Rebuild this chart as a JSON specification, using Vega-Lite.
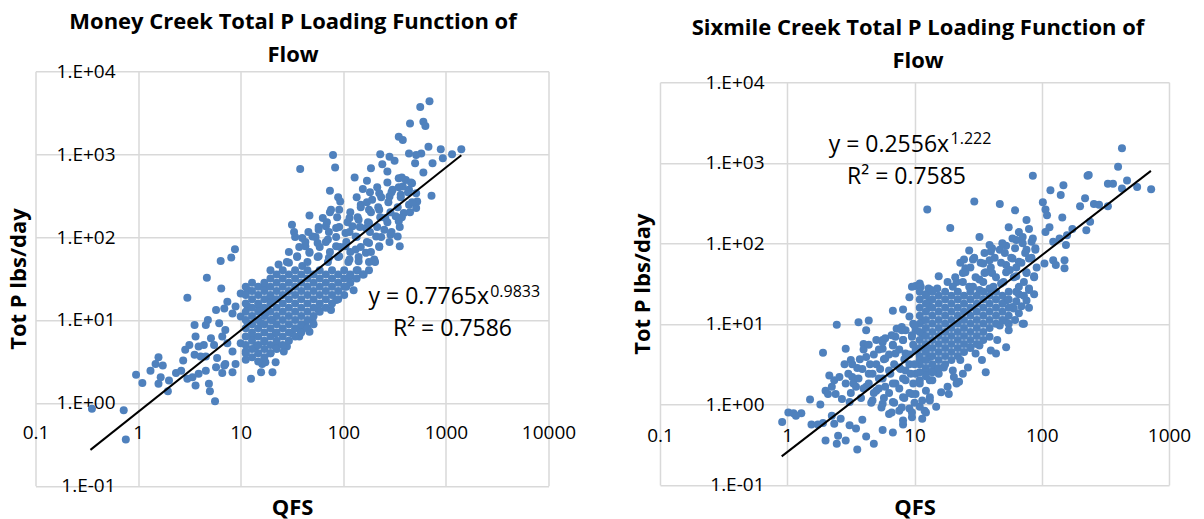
{
  "$schema": "https://vega.github.io/schema/vega-lite/v6.json",
  "background": "#ffffff",
  "padding": {"left": 6.5, "top": 10.3, "right": 4, "bottom": 8},
  "bounds": "flush",
  "spacing": 111.5,
  "config": {
    "view": {"stroke": null},
    "font": "Open Sans",
    "axis": {
      "labelFont": "Open Sans", "labelFontSize": 19, "labelColor": "#000000",
      "titleFont": "Open Sans", "titleFontSize": 22, "titleFontWeight": "bold", "titleColor": "#000000",
      "domain": false, "ticks": false, "tickSize": 0,
      "gridColor": "#d9d9d9", "gridWidth": 1.5, "gridOpacity": 1,
      "labelFlush": false, "labelOverlap": false, "labelBound": false, "labelPadding": 0
    },
    "title": {"font": "Open Sans", "fontSize": 22, "fontWeight": "bold", "color": "#000000", "anchor": "middle", "frame": "group", "lineHeight": 33}
  },
  "datasets": {
    "money": [
      {"qfs":6.38,"totp":51.6},{"qfs":8.09,"totp":56.6},{"qfs":8.79,"totp":71.4},
      {"qfs":692,"totp":4365},{"qfs":562,"totp":3715},{"qfs":447,"totp":2344},{"qfs":603,"totp":2455},{"qfs":631,"totp":2188},{"qfs":347,"totp":1622},{"qfs":380,"totp":1479},{"qfs":1413,"totp":1148},{"qfs":891,"totp":1148},{"qfs":1148,"totp":1000},{"qfs":933,"totp":891},{"qfs":676,"totp":1230},{"qfs":575,"totp":1023},{"qfs":513,"totp":977},{"qfs":437,"totp":1023},{"qfs":79.4,"totp":977},{"qfs":83.2,"totp":692},{"qfs":38.0,"totp":661},{"qfs":229,"totp":1000},{"qfs":282,"totp":933},{"qfs":316,"totp":832},{"qfs":186,"totp":676},{"qfs":240,"totp":759},{"qfs":269,"totp":617},{"qfs":501,"totp":776},{"qfs":603,"totp":603},{"qfs":741,"totp":776},{"qfs":724,"totp":316},{"qfs":129,"totp":525},{"qfs":170,"totp":479},{"qfs":155,"totp":380},{"qfs":74.1,"totp":363},{"qfs":89.1,"totp":302},{"qfs":93.3,"totp":269},{"qfs":148,"totp":245},{"qfs":191,"totp":282},{"qfs":46.8,"totp":182},{"qfs":31.6,"totp":141},{"qfs":33.1,"totp":115},{"qfs":63.1,"totp":170},{"qfs":75.9,"totp":214},{"qfs":91.2,"totp":214},{"qfs":347,"totp":513},{"qfs":407,"totp":490},{"qfs":468,"totp":447},{"qfs":380,"totp":407},{"qfs":437,"totp":372},{"qfs":513,"totp":339},{"qfs":302,"totp":372},{"qfs":363,"totp":324},{"qfs":282,"totp":309},{"qfs":525,"totp":269},{"qfs":437,"totp":245},{"qfs":224,"totp":339},{"qfs":513,"totp":224},{"qfs":389,"totp":195},{"qfs":324,"totp":178},{"qfs":224,"totp":214},{"qfs":178,"totp":214},{"qfs":257,"totp":170},{"qfs":347,"totp":155},{"qfs":251,"totp":123},{"qfs":288,"totp":107},{"qfs":339,"totp":102},{"qfs":355,"totp":77.6},{"qfs":178,"totp":148},{"qfs":141,"totp":162},{"qfs":115,"totp":170},{"qfs":123,"totp":135},{"qfs":166,"totp":129},{"qfs":209,"totp":102},{"qfs":178,"totp":85.1},{"qfs":224,"totp":77.6},{"qfs":132,"totp":102},{"qfs":105,"totp":112},{"qfs":85.1,"totp":129},{"qfs":67.6,"totp":135},{"qfs":57.5,"totp":123},{"qfs":50.1,"totp":102},{"qfs":39.8,"totp":97.7},{"qfs":42.7,"totp":77.6},{"qfs":56.2,"totp":85.1},{"qfs":70.8,"totp":93.3},{"qfs":85.1,"totp":77.6},{"qfs":105,"totp":77.6},{"qfs":132,"totp":70.8},{"qfs":166,"totp":64.6},{"qfs":200,"totp":53.7},{"qfs":141,"totp":51.3},{"qfs":115,"totp":53.7},{"qfs":91.2,"totp":58.9},{"qfs":72.4,"totp":56.2},{"qfs":57.5,"totp":58.9},{"qfs":46.8,"totp":64.6},{"qfs":35.5,"totp":58.9},{"qfs":29.5,"totp":49.0},{"qfs":23.4,"totp":46.8},{"qfs":39.8,"totp":44.7},
      {"qfs":0.355,"totp":0.851},{"qfs":0.724,"totp":0.813},{"qfs":0.759,"totp":0.363},{"qfs":0.955,"totp":2.19},{"qfs":1.10,"totp":1.74},{"qfs":1.32,"totp":2.45},{"qfs":1.58,"totp":3.55},{"qfs":1.48,"totp":2.95},{"qfs":1.74,"totp":2.82},{"qfs":1.58,"totp":1.70},{"qfs":1.95,"totp":1.38},{"qfs":1.66,"totp":2.04},{"qfs":2.00,"totp":1.86},{"qfs":2.34,"totp":2.29},{"qfs":2.75,"totp":3.24},{"qfs":2.63,"totp":2.45},{"qfs":3.02,"totp":1.95},{"qfs":3.63,"totp":1.62},{"qfs":3.39,"totp":2.04},{"qfs":3.89,"totp":2.24},{"qfs":4.90,"totp":1.70},{"qfs":5.01,"totp":1.38},{"qfs":5.62,"totp":1.05},{"qfs":4.57,"totp":2.45},{"qfs":5.75,"totp":2.69},{"qfs":6.61,"totp":2.29},{"qfs":8.32,"totp":2.34},{"qfs":7.08,"totp":2.95},{"qfs":8.91,"totp":2.95},{"qfs":11.2,"totp":3.31},{"qfs":12.6,"totp":1.95},{"qfs":15.8,"totp":2.34},{"qfs":16.2,"totp":2.95},{"qfs":3.02,"totp":18.6},{"qfs":4.68,"totp":32.4},{"qfs":6.46,"totp":24.0},{"qfs":3.55,"totp":8.71},{"qfs":3.63,"totp":6.31},{"qfs":3.16,"totp":5.01},{"qfs":2.88,"totp":4.37},{"qfs":3.89,"totp":4.79},{"qfs":4.37,"totp":5.01},{"qfs":3.55,"totp":3.80},{"qfs":4.07,"totp":3.63},{"qfs":4.57,"totp":3.63},{"qfs":5.50,"totp":5.01},{"qfs":5.13,"totp":6.03},{"qfs":4.79,"totp":10.0},{"qfs":4.57,"totp":8.71},{"qfs":5.75,"totp":13.2},{"qfs":6.17,"totp":9.12},{"qfs":7.08,"totp":7.59},{"qfs":6.92,"totp":13.8},{"qfs":7.41,"totp":16.6},{"qfs":8.91,"totp":14.5},{"qfs":10.0,"totp":20.9},{"qfs":11.7,"totp":22.9},{"qfs":11.7,"totp":14.5},{"qfs":8.32,"totp":12.0},{"qfs":10.0,"totp":11.0},{"qfs":11.7,"totp":9.12},{"qfs":15.1,"totp":14.5},{"qfs":17.4,"totp":25.1},{"qfs":19.5,"totp":19.1},{"qfs":17.4,"totp":12.0},{"qfs":15.8,"totp":9.12},{"qfs":6.61,"totp":6.31},{"qfs":7.41,"totp":5.25},{"qfs":8.32,"totp":4.17},{"qfs":10.0,"totp":5.25},{"qfs":11.2,"totp":4.17},{"qfs":12.9,"totp":6.31},{"qfs":14.1,"totp":4.79},{"qfs":17.0,"totp":5.50},{"qfs":19.5,"totp":3.98},{"qfs":17.4,"totp":3.09},{"qfs":21.9,"totp":6.92},{"qfs":20.4,"totp":10.0},{"qfs":5.89,"totp":3.47},{"qfs":6.92,"totp":2.82},{"qfs":21.9,"totp":3.09},{"qfs":20.4,"totp":2.34},
      {"qfs":126,"totp":22.9},{"qfs":107,"totp":25.1},{"qfs":115,"totp":33.1},{"qfs":138,"totp":39.8},{"qfs":85.1,"totp":17.4},{"qfs":75.9,"totp":13.2},{"qfs":57.5,"totp":13.2},{"qfs":50.1,"totp":10.0},{"qfs":46.8,"totp":7.24},{"qfs":37.2,"totp":6.31},{"qfs":31.6,"totp":6.92},{"qfs":28.2,"totp":4.79},{"qfs":26.3,"totp":4.17},{"qfs":21.9,"totp":4.79},{"qfs":42.7,"totp":8.71},{"qfs":38.0,"totp":7.59},{"qfs":204,"totp":50.1},{"qfs":158,"totp":35.5},
      {"qfs":11.2,"totp":3.98},{"qfs":11.2,"totp":5.01},{"qfs":11.2,"totp":6.31},{"qfs":11.2,"totp":7.94},{"qfs":11.2,"totp":10.0},{"qfs":11.2,"totp":12.6},{"qfs":11.2,"totp":15.8},{"qfs":11.2,"totp":20.0},{"qfs":11.2,"totp":25.1},
      {"qfs":12.9,"totp":3.55},{"qfs":12.9,"totp":4.47},{"qfs":12.9,"totp":5.62},{"qfs":12.9,"totp":7.08},{"qfs":12.9,"totp":8.91},{"qfs":12.9,"totp":11.2},{"qfs":12.9,"totp":14.1},{"qfs":12.9,"totp":17.8},{"qfs":12.9,"totp":22.4},{"qfs":12.9,"totp":28.2},
      {"qfs":14.8,"totp":3.16},{"qfs":14.8,"totp":3.98},{"qfs":14.8,"totp":5.01},{"qfs":14.8,"totp":6.31},{"qfs":14.8,"totp":7.94},{"qfs":14.8,"totp":10.0},{"qfs":14.8,"totp":12.6},{"qfs":14.8,"totp":15.8},{"qfs":14.8,"totp":20.0},{"qfs":14.8,"totp":25.1},
      {"qfs":17.0,"totp":3.55},{"qfs":17.0,"totp":4.47},{"qfs":17.0,"totp":5.62},{"qfs":17.0,"totp":7.08},{"qfs":17.0,"totp":8.91},{"qfs":17.0,"totp":11.2},{"qfs":17.0,"totp":14.1},{"qfs":17.0,"totp":17.8},{"qfs":17.0,"totp":22.4},{"qfs":17.0,"totp":28.2},
      {"qfs":19.5,"totp":3.98},{"qfs":19.5,"totp":5.01},{"qfs":19.5,"totp":6.31},{"qfs":19.5,"totp":7.94},{"qfs":19.5,"totp":10.0},{"qfs":19.5,"totp":12.6},{"qfs":19.5,"totp":15.8},{"qfs":19.5,"totp":20.0},{"qfs":19.5,"totp":25.1},{"qfs":19.5,"totp":31.6},{"qfs":19.5,"totp":39.8},
      {"qfs":22.4,"totp":4.47},{"qfs":22.4,"totp":5.62},{"qfs":22.4,"totp":7.08},{"qfs":22.4,"totp":8.91},{"qfs":22.4,"totp":11.2},{"qfs":22.4,"totp":14.1},{"qfs":22.4,"totp":17.8},{"qfs":22.4,"totp":22.4},{"qfs":22.4,"totp":28.2},{"qfs":22.4,"totp":35.5},
      {"qfs":25.7,"totp":5.01},{"qfs":25.7,"totp":6.31},{"qfs":25.7,"totp":7.94},{"qfs":25.7,"totp":10.0},{"qfs":25.7,"totp":12.6},{"qfs":25.7,"totp":15.8},{"qfs":25.7,"totp":20.0},{"qfs":25.7,"totp":25.1},{"qfs":25.7,"totp":31.6},{"qfs":25.7,"totp":39.8},
      {"qfs":29.5,"totp":5.62},{"qfs":29.5,"totp":7.08},{"qfs":29.5,"totp":8.91},{"qfs":29.5,"totp":11.2},{"qfs":29.5,"totp":14.1},{"qfs":29.5,"totp":17.8},{"qfs":29.5,"totp":22.4},{"qfs":29.5,"totp":28.2},{"qfs":29.5,"totp":35.5},
      {"qfs":33.9,"totp":6.31},{"qfs":33.9,"totp":7.94},{"qfs":33.9,"totp":10.0},{"qfs":33.9,"totp":12.6},{"qfs":33.9,"totp":15.8},{"qfs":33.9,"totp":20.0},{"qfs":33.9,"totp":25.1},{"qfs":33.9,"totp":31.6},{"qfs":33.9,"totp":39.8},
      {"qfs":38.9,"totp":7.08},{"qfs":38.9,"totp":8.91},{"qfs":38.9,"totp":11.2},{"qfs":38.9,"totp":14.1},{"qfs":38.9,"totp":17.8},{"qfs":38.9,"totp":22.4},{"qfs":38.9,"totp":28.2},{"qfs":38.9,"totp":35.5},
      {"qfs":44.7,"totp":7.94},{"qfs":44.7,"totp":10.0},{"qfs":44.7,"totp":12.6},{"qfs":44.7,"totp":15.8},{"qfs":44.7,"totp":20.0},{"qfs":44.7,"totp":25.1},{"qfs":44.7,"totp":31.6},{"qfs":44.7,"totp":39.8},
      {"qfs":51.3,"totp":8.91},{"qfs":51.3,"totp":11.2},{"qfs":51.3,"totp":14.1},{"qfs":51.3,"totp":17.8},{"qfs":51.3,"totp":22.4},{"qfs":51.3,"totp":28.2},{"qfs":51.3,"totp":35.5},
      {"qfs":58.9,"totp":12.6},{"qfs":58.9,"totp":15.8},{"qfs":58.9,"totp":20.0},{"qfs":58.9,"totp":25.1},{"qfs":58.9,"totp":31.6},{"qfs":58.9,"totp":39.8},
      {"qfs":67.6,"totp":14.1},{"qfs":67.6,"totp":17.8},{"qfs":67.6,"totp":22.4},{"qfs":67.6,"totp":28.2},{"qfs":67.6,"totp":35.5},
      {"qfs":77.6,"totp":15.8},{"qfs":77.6,"totp":20.0},{"qfs":77.6,"totp":25.1},{"qfs":77.6,"totp":31.6},{"qfs":77.6,"totp":39.8},
      {"qfs":89.1,"totp":17.8},{"qfs":89.1,"totp":22.4},{"qfs":89.1,"totp":28.2},{"qfs":89.1,"totp":35.5},
      {"qfs":102,"totp":20.0},{"qfs":102,"totp":25.1},{"qfs":102,"totp":31.6},{"qfs":102,"totp":39.8},
      {"qfs":117,"totp":28.2},{"qfs":117,"totp":35.5},{"qfs":135,"totp":31.6},{"qfs":135,"totp":39.8},{"qfs":155,"totp":35.5},{"qfs":178,"totp":39.8},
      {"qfs":28.2,"totp":50.1},{"qfs":29.5,"totp":66.1},
      {"qfs":35.5,"totp":57.5},{"qfs":37.2,"totp":75.9},{"qfs":33.9,"totp":100},
      {"qfs":44.7,"totp":50.1},{"qfs":46.8,"totp":66.1},{"qfs":42.7,"totp":87.1},{"qfs":45.7,"totp":115},
      {"qfs":56.2,"totp":57.5},{"qfs":58.9,"totp":75.9},{"qfs":53.7,"totp":100},{"qfs":57.5,"totp":132},
      {"qfs":70.8,"totp":50.1},{"qfs":74.1,"totp":66.1},{"qfs":67.6,"totp":87.1},{"qfs":72.4,"totp":115},{"qfs":69.2,"totp":151},{"qfs":74.1,"totp":200},
      {"qfs":89.1,"totp":57.5},{"qfs":93.3,"totp":75.9},{"qfs":85.1,"totp":100},{"qfs":91.2,"totp":132},{"qfs":87.1,"totp":174},
      {"qfs":112,"totp":50.1},{"qfs":117,"totp":66.1},{"qfs":107,"totp":87.1},{"qfs":115,"totp":115},{"qfs":110,"totp":151},{"qfs":117,"totp":200},
      {"qfs":141,"totp":57.5},{"qfs":148,"totp":75.9},{"qfs":135,"totp":100},{"qfs":145,"totp":132},{"qfs":138,"totp":174},{"qfs":148,"totp":229},{"qfs":135,"totp":302},
      {"qfs":178,"totp":50.1},{"qfs":186,"totp":66.1},{"qfs":170,"totp":87.1},{"qfs":182,"totp":115},{"qfs":174,"totp":151},{"qfs":186,"totp":200},{"qfs":170,"totp":263},{"qfs":182,"totp":347},
      {"qfs":224,"totp":75.9},{"qfs":234,"totp":100},{"qfs":214,"totp":132},{"qfs":229,"totp":174},{"qfs":219,"totp":229},{"qfs":234,"totp":302},{"qfs":214,"totp":398},
      {"qfs":282,"totp":87.1},{"qfs":295,"totp":115},{"qfs":269,"totp":151},{"qfs":288,"totp":200},{"qfs":275,"totp":263},{"qfs":295,"totp":347},{"qfs":269,"totp":457},
      {"qfs":355,"totp":132},{"qfs":372,"totp":174},{"qfs":339,"totp":229},{"qfs":363,"totp":302},{"qfs":347,"totp":398},{"qfs":372,"totp":525},
      {"qfs":447,"totp":200},{"qfs":468,"totp":263},{"qfs":427,"totp":347},{"qfs":457,"totp":457}
    ],
    "moneyFit": [{"qfs":0.343,"totp":0.271},{"qfs":1413,"totp":972}],
    "sixmile": [
      {"qfs":12.6,"totp":263},{"qfs":10.2,"totp":29.5},{"qfs":11.0,"totp":31.6},{"qfs":9.55,"totp":28.8},{"qfs":12.9,"totp":27.5},
      {"qfs":85.1,"totp":692},{"qfs":229,"totp":692},{"qfs":148,"totp":525},{"qfs":117,"totp":457},{"qfs":141,"totp":398},{"qfs":219,"totp":363},{"qfs":200,"totp":288},{"qfs":257,"totp":309},{"qfs":102,"totp":324},{"qfs":107,"totp":263},{"qfs":110,"totp":224},{"qfs":145,"totp":209},{"qfs":115,"totp":158},{"qfs":107,"totp":138},{"qfs":174,"totp":151},{"qfs":158,"totp":126},{"qfs":138,"totp":115},{"qfs":123,"totp":105},{"qfs":155,"totp":95.5},{"qfs":123,"totp":61.7},{"qfs":129,"totp":53.7},{"qfs":151,"totp":61.7},{"qfs":151,"totp":49.0},{"qfs":105,"totp":56.2},{"qfs":29.5,"totp":331},{"qfs":46.8,"totp":309},{"qfs":61.7,"totp":257},{"qfs":19.1,"totp":155},{"qfs":75.9,"totp":195},{"qfs":55.0,"totp":158},{"qfs":66.1,"totp":138},{"qfs":79.4,"totp":151},{"qfs":32.4,"totp":120},{"qfs":26.9,"totp":81.3},{"qfs":38.9,"totp":95.5},{"qfs":39.8,"totp":79.4},{"qfs":46.8,"totp":83.2},{"qfs":52.5,"totp":93.3},{"qfs":63.1,"totp":110},{"qfs":70.8,"totp":120},{"qfs":83.2,"totp":105},{"qfs":89.1,"totp":83.2},{"qfs":75.9,"totp":83.2},{"qfs":58.9,"totp":64.6},{"qfs":52.5,"totp":53.7},{"qfs":66.1,"totp":58.9},{"qfs":79.4,"totp":64.6},{"qfs":24.5,"totp":63.1},{"qfs":28.8,"totp":63.1},{"qfs":25.1,"totp":49.0},{"qfs":34.7,"totp":56.2},{"qfs":38.9,"totp":61.7},{"qfs":35.5,"totp":42.7},{"qfs":32.4,"totp":35.5},{"qfs":40.7,"totp":42.7},{"qfs":47.9,"totp":31.6},{"qfs":56.2,"totp":46.8},{"qfs":63.1,"totp":38.9},{"qfs":75.9,"totp":42.7},{"qfs":87.1,"totp":38.9},{"qfs":66.1,"totp":28.8},{"qfs":79.4,"totp":27.5},{"qfs":24.0,"totp":42.7},{"qfs":21.4,"totp":33.1},{"qfs":18.2,"totp":33.1},{"qfs":15.5,"totp":38.9},{"qfs":15.1,"totp":27.5},{"qfs":13.5,"totp":26.3},{"qfs":11.2,"totp":28.8},{"qfs":26.9,"totp":28.8},{"qfs":38.9,"totp":27.5},{"qfs":32.4,"totp":26.3},
      {"qfs":427,"totp":1514},{"qfs":398,"totp":891},{"qfs":468,"totp":603},{"qfs":562,"totp":501},{"qfs":724,"totp":468},{"qfs":331,"totp":550},{"qfs":363,"totp":550},{"qfs":427,"totp":479},{"qfs":234,"totp":708},{"qfs":282,"totp":302},{"qfs":331,"totp":288},{"qfs":240,"totp":186},{"qfs":224,"totp":145},
      {"qfs":72.4,"totp":22.4},{"qfs":55.0,"totp":10.0},{"qfs":72.4,"totp":10.0},{"qfs":36.3,"totp":2.51},
      {"qfs":0.912,"totp":0.603},{"qfs":1.02,"totp":0.794},{"qfs":1.12,"totp":0.776},{"qfs":1.29,"totp":0.776},{"qfs":1.17,"totp":0.724},{"qfs":1.55,"totp":0.562},{"qfs":1.51,"totp":1.15},{"qfs":1.82,"totp":1.00},{"qfs":2.00,"totp":1.48},{"qfs":1.74,"totp":0.562},{"qfs":1.91,"totp":0.589},{"qfs":2.00,"totp":0.355},{"qfs":2.45,"totp":0.324},{"qfs":2.51,"totp":0.407},{"qfs":2.88,"totp":0.355},{"qfs":3.55,"totp":0.275},{"qfs":4.79,"totp":0.324},{"qfs":4.17,"totp":0.398},{"qfs":5.62,"totp":0.479},{"qfs":6.76,"totp":0.447},{"qfs":8.13,"totp":0.562},{"qfs":3.09,"totp":0.550},{"qfs":3.47,"totp":0.501},{"qfs":3.89,"totp":0.646},{"qfs":2.63,"totp":0.661},{"qfs":2.34,"totp":0.575},{"qfs":2.24,"totp":0.724},{"qfs":1.91,"totp":4.37},{"qfs":2.88,"totp":4.90},{"qfs":2.45,"totp":9.77},{"qfs":3.63,"totp":10.5},{"qfs":4.37,"totp":11.0},{"qfs":3.98,"totp":5.62},{"qfs":4.17,"totp":8.32},{"qfs":5.01,"totp":6.31},{"qfs":5.62,"totp":5.89},{"qfs":6.76,"totp":14.5},{"qfs":8.13,"totp":15.1},{"qfs":7.24,"totp":8.71},{"qfs":7.94,"totp":9.12},{"qfs":9.12,"totp":12.3},{"qfs":9.77,"totp":10.0},{"qfs":2.14,"totp":2.29},{"qfs":2.34,"totp":2.00},{"qfs":2.57,"totp":2.19},{"qfs":2.88,"totp":1.82},{"qfs":3.24,"totp":2.19},{"qfs":3.47,"totp":1.66},{"qfs":2.40,"totp":1.35},{"qfs":2.69,"totp":1.17},{"qfs":3.09,"totp":1.07},{"qfs":2.24,"totp":1.66},{"qfs":2.09,"totp":1.35},
      {"qfs":4.17,"totp":3.89},{"qfs":5.01,"totp":3.16},{"qfs":5.89,"totp":3.72},{"qfs":7.08,"totp":4.27},{"qfs":4.37,"totp":2.40},{"qfs":5.25,"totp":2.09},{"qfs":6.31,"totp":2.63},{"qfs":7.59,"totp":2.88},{"qfs":4.17,"totp":1.66},{"qfs":5.01,"totp":1.48},{"qfs":5.89,"totp":1.66},{"qfs":7.08,"totp":1.82},{"qfs":8.51,"totp":2.00},{"qfs":4.68,"totp":1.12},{"qfs":5.62,"totp":1.02},{"qfs":6.76,"totp":1.07},{"qfs":8.13,"totp":1.23},{"qfs":9.55,"totp":1.35},{"qfs":7.59,"totp":0.832},{"qfs":9.12,"totp":0.891},{"qfs":11.0,"totp":0.933},{"qfs":12.3,"totp":0.794},{"qfs":9.55,"totp":0.692},{"qfs":11.5,"totp":0.661},{"qfs":8.13,"totp":0.631},{"qfs":6.31,"totp":0.759},
      {"qfs":5.62,"totp":4.90},{"qfs":6.76,"totp":5.37},{"qfs":8.13,"totp":6.31},{"qfs":9.55,"totp":6.92},{"qfs":11.5,"totp":7.59},{"qfs":8.51,"totp":4.27},{"qfs":10.2,"totp":4.68},{"qfs":12.3,"totp":5.13},{"qfs":9.12,"totp":3.16},{"qfs":11.0,"totp":3.55},{"qfs":13.2,"totp":3.89},{"qfs":10.2,"totp":2.40},{"qfs":12.3,"totp":2.63},{"qfs":8.51,"totp":2.63},{"qfs":11.0,"totp":1.82},{"qfs":13.2,"totp":2.00},{"qfs":10.2,"totp":1.35},{"qfs":12.3,"totp":1.48},{"qfs":11.5,"totp":1.12},{"qfs":13.2,"totp":1.23},{"qfs":8.51,"totp":8.32},{"qfs":7.08,"totp":6.92},{"qfs":5.89,"totp":6.61},{"qfs":10.2,"totp":8.32},{"qfs":11.5,"totp":11.0},{"qfs":13.2,"totp":16.2},{"qfs":9.12,"totp":21.4},{"qfs":12.3,"totp":23.4},{"qfs":13.2,"totp":19.5},{"qfs":3.16,"totp":3.55},{"qfs":3.55,"totp":2.82},{"qfs":2.82,"totp":3.16},
      {"qfs":87.1,"totp":23.4},{"qfs":70.8,"totp":10.0},{"qfs":66.1,"totp":13.5},{"qfs":60.3,"totp":15.5},{"qfs":52.5,"totp":5.13},{"qfs":44.7,"totp":6.31},{"qfs":43.7,"totp":4.27},{"qfs":26.3,"totp":2.88},{"qfs":46.8,"totp":9.55},{"qfs":38.9,"totp":6.92},{"qfs":32.4,"totp":5.37},{"qfs":30.2,"totp":4.27},{"qfs":22.4,"totp":1.91},{"qfs":20.4,"totp":2.19},{"qfs":18.2,"totp":1.66},{"qfs":15.5,"totp":2.40},{"qfs":14.1,"totp":2.63},{"qfs":13.8,"totp":2.00},{"qfs":13.2,"totp":1.12},{"qfs":14.8,"totp":0.933},{"qfs":12.0,"totp":0.832},{"qfs":16.2,"totp":1.41},{"qfs":18.6,"totp":1.35},{"qfs":21.4,"totp":1.82},{"qfs":17.0,"totp":2.88},{"qfs":20.0,"totp":2.63},{"qfs":22.9,"totp":3.55},{"qfs":24.0,"totp":2.40},{"qfs":39.8,"totp":4.68},{"qfs":33.9,"totp":3.55},{"qfs":27.5,"totp":5.13},{"qfs":55.0,"totp":8.32},{"qfs":51.3,"totp":11.0},{"qfs":58.9,"totp":16.2},{"qfs":75.9,"totp":19.5},{"qfs":66.1,"totp":23.4},{"qfs":52.5,"totp":19.5},{"qfs":63.1,"totp":19.1},{"qfs":79.4,"totp":15.8},{"qfs":61.7,"totp":11.2},{"qfs":63.1,"totp":25.1},{"qfs":79.4,"totp":26.3},{"qfs":69.2,"totp":16.6},
      {"qfs":11.0,"totp":2.00},{"qfs":11.0,"totp":2.51},{"qfs":11.0,"totp":3.16},{"qfs":11.0,"totp":3.98},{"qfs":11.0,"totp":5.01},{"qfs":11.0,"totp":6.31},{"qfs":11.0,"totp":7.94},{"qfs":11.0,"totp":10.0},{"qfs":11.0,"totp":12.6},{"qfs":11.0,"totp":15.8},{"qfs":11.0,"totp":20.0},{"qfs":11.0,"totp":25.1},
      {"qfs":12.3,"totp":2.24},{"qfs":12.3,"totp":2.82},{"qfs":12.3,"totp":3.55},{"qfs":12.3,"totp":4.47},{"qfs":12.3,"totp":5.62},{"qfs":12.3,"totp":7.08},{"qfs":12.3,"totp":8.91},{"qfs":12.3,"totp":11.2},{"qfs":12.3,"totp":14.1},{"qfs":12.3,"totp":17.8},{"qfs":12.3,"totp":22.4},
      {"qfs":13.8,"totp":2.51},{"qfs":13.8,"totp":3.16},{"qfs":13.8,"totp":3.98},{"qfs":13.8,"totp":5.01},{"qfs":13.8,"totp":6.31},{"qfs":13.8,"totp":7.94},{"qfs":13.8,"totp":10.0},{"qfs":13.8,"totp":12.6},{"qfs":13.8,"totp":15.8},{"qfs":13.8,"totp":20.0},{"qfs":13.8,"totp":25.1},
      {"qfs":15.5,"totp":2.82},{"qfs":15.5,"totp":3.55},{"qfs":15.5,"totp":4.47},{"qfs":15.5,"totp":5.62},{"qfs":15.5,"totp":7.08},{"qfs":15.5,"totp":8.91},{"qfs":15.5,"totp":11.2},{"qfs":15.5,"totp":14.1},{"qfs":15.5,"totp":17.8},{"qfs":15.5,"totp":22.4},
      {"qfs":17.4,"totp":3.16},{"qfs":17.4,"totp":3.98},{"qfs":17.4,"totp":5.01},{"qfs":17.4,"totp":6.31},{"qfs":17.4,"totp":7.94},{"qfs":17.4,"totp":10.0},{"qfs":17.4,"totp":12.6},{"qfs":17.4,"totp":15.8},{"qfs":17.4,"totp":20.0},{"qfs":17.4,"totp":25.1},
      {"qfs":19.5,"totp":3.55},{"qfs":19.5,"totp":4.47},{"qfs":19.5,"totp":5.62},{"qfs":19.5,"totp":7.08},{"qfs":19.5,"totp":8.91},{"qfs":19.5,"totp":11.2},{"qfs":19.5,"totp":14.1},{"qfs":19.5,"totp":17.8},{"qfs":19.5,"totp":22.4},
      {"qfs":21.9,"totp":3.98},{"qfs":21.9,"totp":5.01},{"qfs":21.9,"totp":6.31},{"qfs":21.9,"totp":7.94},{"qfs":21.9,"totp":10.0},{"qfs":21.9,"totp":12.6},{"qfs":21.9,"totp":15.8},{"qfs":21.9,"totp":20.0},{"qfs":21.9,"totp":25.1},
      {"qfs":24.5,"totp":4.47},{"qfs":24.5,"totp":5.62},{"qfs":24.5,"totp":7.08},{"qfs":24.5,"totp":8.91},{"qfs":24.5,"totp":11.2},{"qfs":24.5,"totp":14.1},{"qfs":24.5,"totp":17.8},{"qfs":24.5,"totp":22.4},
      {"qfs":27.5,"totp":5.01},{"qfs":27.5,"totp":6.31},{"qfs":27.5,"totp":7.94},{"qfs":27.5,"totp":10.0},{"qfs":27.5,"totp":12.6},{"qfs":27.5,"totp":15.8},{"qfs":27.5,"totp":20.0},{"qfs":27.5,"totp":25.1},
      {"qfs":30.9,"totp":5.62},{"qfs":30.9,"totp":7.08},{"qfs":30.9,"totp":8.91},{"qfs":30.9,"totp":11.2},{"qfs":30.9,"totp":14.1},{"qfs":30.9,"totp":17.8},{"qfs":30.9,"totp":22.4},
      {"qfs":34.7,"totp":6.31},{"qfs":34.7,"totp":7.94},{"qfs":34.7,"totp":10.0},{"qfs":34.7,"totp":12.6},{"qfs":34.7,"totp":15.8},{"qfs":34.7,"totp":20.0},{"qfs":34.7,"totp":25.1},
      {"qfs":38.9,"totp":8.91},{"qfs":38.9,"totp":11.2},{"qfs":38.9,"totp":14.1},{"qfs":38.9,"totp":17.8},{"qfs":38.9,"totp":22.4},
      {"qfs":43.7,"totp":10.0},{"qfs":43.7,"totp":12.6},{"qfs":43.7,"totp":15.8},{"qfs":43.7,"totp":20.0},{"qfs":43.7,"totp":25.1},
      {"qfs":49.0,"totp":11.2},{"qfs":49.0,"totp":14.1},{"qfs":49.0,"totp":17.8},{"qfs":49.0,"totp":22.4},
      {"qfs":55.0,"totp":12.6},{"qfs":55.0,"totp":15.8},{"qfs":55.0,"totp":20.0},{"qfs":55.0,"totp":25.1},
      {"qfs":3.16,"totp":1.38},{"qfs":3.31,"totp":1.82},{"qfs":3.02,"totp":2.40},{"qfs":3.24,"totp":3.16},
      {"qfs":3.80,"totp":1.20},{"qfs":3.98,"totp":1.58},{"qfs":3.63,"totp":2.09},{"qfs":3.89,"totp":2.75},{"qfs":3.72,"totp":3.63},{"qfs":3.98,"totp":4.79},
      {"qfs":4.57,"totp":1.05},{"qfs":4.79,"totp":1.38},{"qfs":4.37,"totp":1.82},{"qfs":4.68,"totp":2.40},{"qfs":4.47,"totp":3.16},{"qfs":4.79,"totp":4.17},{"qfs":4.37,"totp":5.50},
      {"qfs":5.50,"totp":0.912},{"qfs":5.75,"totp":1.20},{"qfs":5.25,"totp":1.58},{"qfs":5.62,"totp":2.09},{"qfs":5.37,"totp":2.75},{"qfs":5.75,"totp":3.63},{"qfs":5.25,"totp":4.79},{"qfs":5.62,"totp":6.31},
      {"qfs":6.61,"totp":0.794},{"qfs":6.92,"totp":1.05},{"qfs":6.31,"totp":1.38},{"qfs":6.76,"totp":1.82},{"qfs":6.46,"totp":2.40},{"qfs":6.92,"totp":3.16},{"qfs":6.31,"totp":4.17},{"qfs":6.76,"totp":5.50},{"qfs":6.61,"totp":7.24},
      {"qfs":7.94,"totp":0.912},{"qfs":8.32,"totp":1.20},{"qfs":7.59,"totp":1.58},{"qfs":8.13,"totp":2.09},{"qfs":7.76,"totp":2.75},{"qfs":8.32,"totp":3.63},{"qfs":7.59,"totp":4.79},{"qfs":8.13,"totp":6.31},{"qfs":7.94,"totp":8.32},
      {"qfs":9.55,"totp":0.794},{"qfs":10.0,"totp":1.05},{"qfs":9.12,"totp":1.38},{"qfs":9.77,"totp":1.82},{"qfs":9.33,"totp":2.40},{"qfs":10.0,"totp":3.16},{"qfs":9.12,"totp":4.17},{"qfs":9.77,"totp":5.50},{"qfs":9.55,"totp":7.24},{"qfs":10.0,"totp":9.55},
      {"qfs":20.0,"totp":28.8},{"qfs":20.9,"totp":38.0},
      {"qfs":24.0,"totp":33.1},{"qfs":25.1,"totp":43.7},{"qfs":22.9,"totp":57.5},
      {"qfs":28.8,"totp":28.8},{"qfs":30.2,"totp":38.0},{"qfs":27.5,"totp":50.1},{"qfs":29.5,"totp":66.1},
      {"qfs":34.7,"totp":33.1},{"qfs":36.3,"totp":43.7},{"qfs":33.1,"totp":57.5},{"qfs":35.5,"totp":75.9},
      {"qfs":41.7,"totp":28.8},{"qfs":43.7,"totp":38.0},{"qfs":39.8,"totp":50.1},{"qfs":42.7,"totp":66.1},{"qfs":40.7,"totp":87.1},
      {"qfs":50.1,"totp":33.1},{"qfs":52.5,"totp":43.7},{"qfs":47.9,"totp":57.5},{"qfs":51.3,"totp":75.9},{"qfs":49.0,"totp":100},
      {"qfs":60.3,"totp":38.0},{"qfs":63.1,"totp":50.1},{"qfs":57.5,"totp":66.1},{"qfs":61.7,"totp":87.1},{"qfs":58.9,"totp":115},
      {"qfs":72.4,"totp":33.1},{"qfs":75.9,"totp":43.7},{"qfs":69.2,"totp":57.5},{"qfs":74.1,"totp":75.9},{"qfs":70.8,"totp":100},
      {"qfs":87.1,"totp":38.0},{"qfs":91.2,"totp":50.1},{"qfs":83.2,"totp":66.1},{"qfs":89.1,"totp":87.1},{"qfs":85.1,"totp":115}
    ],
    "sixmileFit": [{"qfs":0.904,"totp":0.226},{"qfs":721,"totp":794}]
  },
  "hconcat": [
    {
      "width": 513,
      "height": 414.5,
      "title": {"text": ["Money Creek Total P Loading Function of", "Flow"], "offset": -4.9, "dx": 1},
      "layer": [
        {
          "data": {"name": "money"},
          "mark": {"type": "circle", "size": 64, "color": "#4f81bd", "opacity": 1},
          "encoding": {
            "x": {"field": "qfs", "type": "quantitative", "title": "QFS",
              "scale": {"type": "log", "domain": [0.1, 10000], "nice": false},
              "axis": {"orient": "bottom", "offset": -53.4, "values": [0.1, 1, 10, 100, 1000, 10000],
                "labelExpr": "datum.value < 1 ? '0.1' : format(datum.value, 'd')",
                "labelAlign": "center", "labelBaseline": "middle",
                "titleY": 75.1, "titleBaseline": "middle", "grid": true}},
            "y": {"field": "totp", "type": "quantitative", "title": "Tot P lbs/day",
              "scale": {"type": "log", "domain": [0.1, 10000], "nice": false},
              "axis": {"orient": "left", "offset": -79.5, "values": [0.1, 1, 10, 100, 1000, 10000],
                "labelExpr": "'1.E' + (datum.value < 1 ? '-' : '+') + '0' + abs(round(log(datum.value) / LN10))",
                "labelAlign": "right", "labelBaseline": "middle",
                "titleX": -97, "titleY": 207.25, "titleAngle": -90, "titleAlign": "center", "titleBaseline": "middle", "grid": true}}
          }
        },
        {
          "data": {"name": "moneyFit"},
          "mark": {"type": "line", "color": "#000000", "strokeWidth": 2},
          "encoding": {
            "x": {"field": "qfs", "type": "quantitative", "title": "QFS"},
            "y": {"field": "totp", "type": "quantitative", "title": "Tot P lbs/day"}
          }
        },
        {
          "data": {"values": [{}]},
          "mark": {"type": "text", "font": "Open Sans", "fontSize": 23, "align": "right", "baseline": "alphabetic", "color": "#000000"},
          "encoding": {"x": {"datum": 2630}, "y": {"datum": 15.5}, "text": {"value": "y = 0.7765x"}}
        },
        {
          "data": {"values": [{}]},
          "mark": {"type": "text", "font": "Open Sans", "fontSize": 16, "align": "left", "baseline": "alphabetic", "color": "#000000"},
          "encoding": {"x": {"datum": 2700}, "y": {"datum": 19.0}, "text": {"value": "0.9833"}}
        },
        {
          "data": {"values": [{}]},
          "mark": {"type": "text", "font": "Open Sans", "fontSize": 23, "align": "center", "baseline": "alphabetic", "color": "#000000"},
          "encoding": {"x": {"datum": 1159}, "y": {"datum": 6.38}, "text": {"value": "R² = 0.7586"}}
        }
      ]
    },
    {
      "bounds": "flush",
      "spacing": 0,
      "vconcat": [
        {
          "width": 509,
          "height": 10.8,
          "data": {"values": [{}]},
          "mark": {"type": "text"},
          "encoding": {"text": {"value": ""}}
        },
        {
          "width": 509,
          "height": 402.6,
          "title": {"text": ["Sixmile Creek Total P Loading Function of", "Flow"], "offset": 0.2, "dx": 3.5},
          "layer": [
            {
              "data": {"name": "sixmile"},
              "mark": {"type": "circle", "size": 64, "color": "#4f81bd", "opacity": 1},
              "encoding": {
                "x": {"field": "qfs", "type": "quantitative", "title": "QFS",
                  "scale": {"type": "log", "domain": [0.1, 1000], "nice": false},
                  "axis": {"orient": "bottom", "offset": -49, "values": [0.1, 1, 10, 100, 1000],
                    "labelExpr": "datum.value < 1 ? '0.1' : format(datum.value, 'd')",
                    "labelAlign": "center", "labelBaseline": "middle",
                    "titleY": 72, "titleBaseline": "middle", "grid": true}},
                "y": {"field": "totp", "type": "quantitative", "title": "Tot P lbs/day",
                  "scale": {"type": "log", "domain": [0.1, 10000], "nice": false},
                  "axis": {"orient": "left", "offset": -104, "values": [0.1, 1, 10, 100, 1000, 10000],
                    "labelExpr": "'1.E' + (datum.value < 1 ? '-' : '+') + '0' + abs(round(log(datum.value) / LN10))",
                    "labelAlign": "right", "labelBaseline": "middle",
                    "titleX": -121, "titleY": 201.3, "titleAngle": -90, "titleAlign": "center", "titleBaseline": "middle", "grid": true}}
              }
            },
            {
              "data": {"name": "sixmileFit"},
              "mark": {"type": "line", "color": "#000000", "strokeWidth": 2},
              "encoding": {
                "x": {"field": "qfs", "type": "quantitative", "title": "QFS"},
                "y": {"field": "totp", "type": "quantitative", "title": "Tot P lbs/day"}
              }
            },
            {
              "data": {"values": [{}]},
              "mark": {"type": "text", "font": "Open Sans", "fontSize": 23, "align": "right", "baseline": "alphabetic", "color": "#000000"},
              "encoding": {"x": {"datum": 18.7}, "y": {"datum": 1362}, "text": {"value": "y = 0.2556x"}}
            },
            {
              "data": {"values": [{}]},
              "mark": {"type": "text", "font": "Open Sans", "fontSize": 16, "align": "left", "baseline": "alphabetic", "color": "#000000"},
              "encoding": {"x": {"datum": 19.2}, "y": {"datum": 1726}, "text": {"value": "1.222"}}
            },
            {
              "data": {"values": [{}]},
              "mark": {"type": "text", "font": "Open Sans", "fontSize": 23, "align": "center", "baseline": "alphabetic", "color": "#000000"},
              "encoding": {"x": {"datum": 8.65}, "y": {"datum": 550}, "text": {"value": "R² = 0.7585"}}
            }
          ]
        }
      ]
    }
  ]
}
